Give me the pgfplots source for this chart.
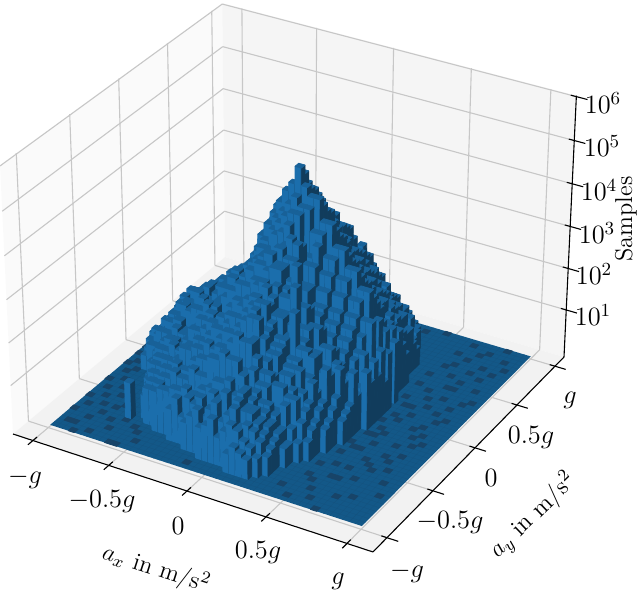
\RequirePackage{fix-cm}
\documentclass[border=0pt]{standalone}
\usepackage{pgfplots}
\pgfplotsset{compat=1.18}
\pgfplotsset{colormap={bars}{rgb255=(24,97,152) rgb255=(27,110,172) rgb255=(17,60,92) rgb255=(24,68,104)}}
\pgfplotsset{barstyle/.style={patch,patch type=rectangle,shader=flat,point meta=explicit,colormap access=direct,colormap name=bars,forget plot}}
\newcommand\PP[3]{\pgfmathsetmacro\pW{1-0.04697*#1+0.08841*#2-0.045*#3}%
\pgfmathsetmacro\pU{(13+342.48*#1+231.89*#2-13*#3)/\pW}%
\pgfmathsetmacro\pV{(434+92.07*#1-154.28*#2-276.43*#3)/\pW}}
\newcommand\seg[7]{%
\PP{#2}{#3}{#4}\let\aU\pU\let\aV\pV\PP{#5}{#6}{#7}%
\edef\tmp{\noexpand\addplot[#1,forget plot] coordinates {(\aU,\aV)(\pU,\pV)};}\tmp}
\newcommand\quadface[5]{%
\gdef\ql{}\foreach \q in {#2,#3,#4,#5}{\expandafter\PPc\q\relax\xdef\ql{\ql(\pU,\pV)}}%
\edef\tmp{\noexpand\addplot[draw=none,fill=#1,forget plot] coordinates {\ql} --cycle;}\tmp}
\def\PPc#1/#2/#3\relax{\PP{#1}{#2}{#3}}
\newcommand\barrow[3]{%
\gdef\rowlist{}%
\pgfmathsetmacro\yA{0.08+0.0176*#1}\pgfmathsetmacro\yB{\yA+0.0176}%
\foreach \h [count=\i from #2] in {#3}{\ifnum\h>0
\pgfmathsetmacro\xA{0.055+0.01742*\i}\pgfmathsetmacro\xB{\xA+0.01742}\pgfmathsetmacro\fT{0.0246+0.0162*\h}%
\PP{\xA}{\yA}{\fT}\let\tAU\pU\let\tAV\pV
\PP{\xB}{\yA}{\fT}\let\tBU\pU\let\tBV\pV
\PP{\xB}{\yB}{\fT}\let\tCU\pU\let\tCV\pV
\PP{\xA}{\yB}{\fT}\let\tDU\pU\let\tDV\pV
\PP{\xA}{\yA}{0}\let\bAU\pU\let\bAV\pV
\PP{\xB}{\yA}{0}\let\bBU\pU\let\bBV\pV
\PP{\xB}{\yB}{0}\let\bCU\pU\let\bCV\pV
\xdef\rowlist{\rowlist
(\bAU,\bAV)[1](\bBU,\bBV)[1](\tBU,\tBV)[1](\tAU,\tAV)[1]
(\bBU,\bBV)[2](\bCU,\bCV)[2](\tCU,\tCV)[2](\tBU,\tBV)[2]
(\tAU,\tAV)[0](\tBU,\tBV)[0](\tCU,\tCV)[0](\tDU,\tDV)[0]}%
\fi}%
\edef\tmp{\noexpand\addplot[barstyle] coordinates {\rowlist};}\tmp}
\newcommand\spotrow[2]{%
\gdef\rowlist{}%
\pgfmathsetmacro\yA{0.08+0.0176*#1}\pgfmathsetmacro\yB{\yA+0.0176}%
\foreach \i in {#2}{%
\pgfmathsetmacro\xA{0.055+0.01742*\i}\pgfmathsetmacro\xB{\xA+0.01742}%
\PP{\xA}{\yA}{0}\let\tAU\pU\let\tAV\pV
\PP{\xB}{\yA}{0}\let\tBU\pU\let\tBV\pV
\PP{\xB}{\yB}{0}\let\tCU\pU\let\tCV\pV
\PP{\xA}{\yB}{0}\let\tDU\pU\let\tDV\pV
\xdef\rowlist{\rowlist(\tAU,\tAV)[3](\tBU,\tBV)[3](\tCU,\tCV)[3](\tDU,\tDV)[3]}%
}%
\edef\tmp{\noexpand\addplot[barstyle] coordinates {\rowlist};}\tmp}
\definecolor{flc}{RGB}{19,88,136}
\definecolor{flg}{RGB}{19,82,126}
\pgfplotsset{gridl/.style={color=black!22,line width=0.55pt},fl/.style={color=flg,line width=0.1pt},ax/.style={color=black,line width=0.55pt}}
\newcommand\tl{\fontsize{13.2}{15}\selectfont}
\newcommand\al{\fontsize{12.2}{14}\selectfont}
\begin{document}
\begin{tikzpicture}
\useasboundingbox (0,0) rectangle (320pt,297pt);
\begin{axis}[at={(0,0)},anchor=south west,scale only axis,width=320pt,height=297pt,
 xmin=0,xmax=640,ymin=0,ymax=594,y dir=reverse,hide axis,clip=true]
\quadface{black!2}{0/0/0}{0/1/0}{0/1/1}{0/0/1}
\quadface{black!4}{0/1/0}{1/1/0}{1/1/1}{0/1/1}
\quadface{black!5}{0/0/0}{1/0/0}{1/1/0}{0/1/0}
\foreach \t in {0.058,0.2755,0.4953,0.7128,0.931}{\seg{gridl}{\t}{0}{0}{\t}{1}{0}\seg{gridl}{\t}{1}{0}{\t}{1}{1}}
\foreach \t in {0.0674,0.295,0.512,0.737,0.9486}{\seg{gridl}{1}{\t}{0}{0}{\t}{0}\seg{gridl}{0}{\t}{0}{0}{\t}{1}}
\foreach \t in {0.1866,0.3486,0.5106,0.6726,0.8346,0.9966}{\seg{gridl}{0}{0}{\t}{0}{1}{\t}\seg{gridl}{0}{1}{\t}{1}{1}{\t}}
\quadface{flc}{0.055/0.08/0}{0.926/0.08/0}{0.926/0.96/0}{0.055/0.96/0}
\foreach \k in {1,...,49}{\pgfmathsetmacro\xk{0.055+0.01742*\k}\pgfmathsetmacro\yk{0.08+0.0176*\k}
 \seg{fl}{\xk}{0.08}{0}{\xk}{0.96}{0}\seg{fl}{0.055}{\yk}{0}{0.926}{\yk}{0}}
\spotrow{49}{10,36,46}\spotrow{48}{4,33,41}\spotrow{47}{8,30,44}\spotrow{46}{3,43,47}\spotrow{45}{6,40}
\spotrow{44}{2,42,48}\spotrow{43}{5,45}\spotrow{42}{1,41,47}\spotrow{41}{2,3,40,44}\spotrow{40}{0,46}
\spotrow{39}{1,42}\spotrow{38}{0,39,44}\spotrow{37}{1,47}\spotrow{36}{43,44}\spotrow{35}{0,39}
\spotrow{34}{41,48}\spotrow{33}{0,44,47}\spotrow{32}{1,42}\spotrow{31}{0,39,46}\spotrow{30}{1,43}
\spotrow{29}{40,41,45}\spotrow{28}{0,47}\spotrow{27}{1,42,46}\spotrow{26}{0,40}\spotrow{25}{41,45}
\spotrow{24}{0,39,44}\spotrow{23}{1,46}\spotrow{22}{0,40,45}\spotrow{21}{41,47}\spotrow{20}{1,39,40,46}
\spotrow{19}{0,44}\spotrow{18}{2,41}\spotrow{17}{1,38,46}\spotrow{16}{39,40,44}\spotrow{15}{2,45}
\spotrow{14}{0,38,42}\spotrow{13}{3,43,46}\spotrow{12}{1,44}\spotrow{11}{4,39,41}\spotrow{10}{2,37,47}
\spotrow{9}{0,6,43}\spotrow{8}{3,5,40,41}\spotrow{7}{1,37,48}\spotrow{6}{4,8,38}\spotrow{5}{0,6,10,45}
\spotrow{4}{3,11,39,43}\spotrow{3}{7,35}\spotrow{2}{1,2,12,40}\spotrow{1}{5,21,37}\spotrow{0}{3,9,10,42}
\barrow{46}{16}{5,5,7,7,5,8,8,6,9,9,7,6,6,4,3}
\barrow{45}{13}{4,6,6,4,7,7,5,9,9,6,10,10,12,8,8,6,6,4,3}
\barrow{44}{11}{5,5,7,4,8,8,6,9,9,11,7,12,12,14,14,15,11,11,9,9,6,6,4}
\barrow{43}{9}{5,3,6,6,8,5,9,9,7,10,10,12,8,13,13,16,16,18,14,14,10,10,8,8,5,4}
\barrow{42}{8}{4,6,3,6,7,7,9,6,11,11,8,12,12,15,10,16,16,19,19,15,15,11,11,8,8,6,4}
\barrow{41}{6}{4,4,6,3,7,7,9,9,6,11,11,13,9,14,14,16,12,18,18,20,22,17,17,14,14,10,10,8,8,5}
\barrow{40}{5}{3,5,5,7,4,8,8,11,7,12,12,14,10,15,15,17,13,19,19,22,24,19,19,15,15,12,12,9,9,6,4}
\barrow{39}{4}{3,5,5,7,4,9,9,12,8,13,13,15,11,17,17,14,20,20,23,23,26,21,21,17,17,14,14,10,10,9,6,4,3}
\barrow{38}{3}{3,4,4,7,5,9,9,12,8,13,13,15,11,16,16,18,14,21,21,24,24,28,28,23,23,19,19,15,15,13,12,11,8,5}
\barrow{37}{3}{3,5,5,7,4,9,11,8,12,12,14,10,15,15,18,14,20,20,23,23,26,29,29,29,24,24,20,20,16,16,14,12,12,9}
\barrow{36}{2}{3,4,4,6,3,7,10,10,6,13,13,15,15,12,18,20,20,16,23,23,26,28,28,30,30,25,25,21,21,17,17,14,14,12,9}
\barrow{35}{2}{4,4,6,6,4,8,11,11,7,14,14,17,22,18,26,26,21,28,28,24,30,30,26,31,31,26,26,22,22,18,18,15,15,13,10}
\barrow{34}{2}{5,5,7,4,9,9,11,7,14,14,16,18,22,24,27,22,29,29,25,31,31,27,33,33,28,28,24,24,20,20,17,17,14,12,9,6}
\barrow{33}{2}{5,7,7,4,10,10,12,8,14,15,17,19,21,25,20,28,30,30,26,32,33,33,28,35,35,30,30,26,26,22,22,18,18,15,12,9}
\barrow{32}{2}{5,5,8,8,6,10,12,12,8,15,17,17,20,24,27,23,31,31,27,34,34,29,36,36,33,33,28,28,24,24,20,20,17,14,8,13}
\barrow{31}{2}{5,7,9,6,11,11,12,13,10,16,18,18,14,22,26,27,22,33,33,28,35,35,37,38,35,35,30,30,26,26,22,22,18,15,15,11}
\barrow{30}{2}{4,7,10,7,11,11,12,9,15,15,18,14,20,23,27,22,33,34,35,30,35,38,38,40,37,37,33,33,28,28,24,24,20,20,9,15}
\barrow{29}{2}{4,7,9,6,11,12,13,9,16,16,18,14,20,22,26,21,31,33,35,37,32,37,40,42,41,37,37,33,33,28,28,24,24,20,17,8,13}
\barrow{28}{2}{3,6,9,9,12,8,14,14,16,12,19,19,21,17,25,26,30,26,36,38,40,41,42,44,43,40,40,35,35,30,30,26,26,21,21,16}
\barrow{27}{2}{2,5,9,6,13,13,14,10,16,17,18,14,21,22,24,20,29,32,36,39,41,43,44,46,45,41,41,36,36,31,31,27,27,23,23,10,12}
\barrow{26}{2}{2,5,8,8,12,14,10,14,17,13,19,19,22,18,24,25,28,33,36,40,42,44,46,49,46,43,43,38,38,33,33,29,29,25,25,20,6}
\barrow{25}{2}{2,4,8,10,13,9,15,15,17,13,18,19,21,23,19,25,28,33,36,39,42,45,47,51,47,45,45,40,40,35,35,31,31,27,27,11,14}
\barrow{24}{2}{3,5,7,7,12,13,13,16,15,15,17,19,19,22,21,21,27,30,33,37,39,41,43,45,43,43,38,38,33,33,29,29,25,25,21,21,9}
\barrow{23}{2}{4,3,8,9,9,10,10,11,12,12,15,15,16,16,19,19,23,28,32,34,37,39,41,42,42,33,33,36,30,30,26,26,22,22,18,10,13}
\barrow{22}{2}{3,6,6,7,11,11,14,13,13,17,16,16,18,21,21,23,25,25,30,33,33,37,38,40,36,36,32,32,27,27,23,23,20,20,15,15,9}
\barrow{21}{3}{4,6,6,10,10,10,11,15,15,13,13,18,18,16,16,24,26,26,31,33,33,35,36,38,37,28,28,24,24,21,21,18,18,14,8,12}
\barrow{20}{3}{3,3,8,8,11,12,12,15,16,16,18,17,17,21,23,23,27,29,29,33,34,34,36,34,34,28,28,23,23,19,19,16,16,11,7}
\barrow{19}{3}{2,5,5,6,9,9,13,11,11,13,13,17,19,15,15,20,26,26,30,32,32,35,33,33,30,34,25,25,21,21,17,17,14,9,13}
\barrow{18}{6}{6,8,8,12,11,11,13,16,16,18,17,17,21,23,23,27,29,29,32,33,33,29,27,26,26,22,22,18,18,15,11,6}
\barrow{17}{6}{3,7,7,10,10,9,9,12,12,13,13,19,15,15,20,20,25,29,30,26,30,28,28,31,22,22,14,14,10,10,15,5}
\barrow{16}{6}{4,7,7,11,11,10,12,15,15,16,18,18,20,21,21,24,26,27,27,30,28,25,25,23,20,20,18,18,14,14,9,4}
\barrow{15}{7}{5,9,9,8,8,9,12,12,12,12,14,14,15,15,19,19,22,28,24,27,25,25,21,27,19,19,18,10,16,7}
\barrow{14}{7}{3,7,10,10,12,11,11,13,15,15,17,19,19,21,23,23,25,27,28,28,24,21,21,17,17,14,14,11,9,5}
\barrow{13}{8}{5,9,9,7,7,10,10,11,11,14,14,15,15,17,18,18,20,27,23,23,20,20,16,16,16,9,14,8,4}
\barrow{12}{8}{4,8,8,10,10,11,14,14,15,15,17,16,19,21,21,23,25,26,26,22,19,19,15,15,12,12,10,6}
\barrow{11}{9}{5,6,6,9,9,9,8,11,11,11,12,12,14,14,17,17,20,22,18,18,15,10,10,13,7,9,5}
\barrow{10}{9}{3,8,8,10,10,12,11,11,14,15,15,16,19,19,21,23,22,22,19,16,16,14,14,12,12,7,3}
\barrow{9}{10}{6,7,7,8,8,7,9,9,10,11,11,13,14,14,16,16,16,17,14,14,9,9,11,6,3}
\barrow{8}{10}{4,8,8,10,10,12,11,11,14,13,13,18,18,20,19,19,16,13,13,11,11,9,6,3}
\barrow{7}{8}{7,0,0,7,7,9,8,8,6,8,8,9,11,11,12,12,14,12,12,14,12,10,10,8,6,3}
\barrow{6}{13}{8,9,9,10,10,11,10,10,12,13,15,15,16,13,14,11,11,9,8,5}
\barrow{5}{16}{6,9,5,10,9,11,7,13,12,14,10,13,11,11,9,7,4}
\barrow{4}{19}{5,7,9,5,10,12,8,10,12,8,9,8,6,3}
\barrow{3}{22}{6,7,9,5,7,9,8,6,5,3}
\barrow{2}{27}{3,5,4,3}
\seg{ax}{0}{0}{0}{1}{0}{0}\seg{ax}{1}{0}{0}{1}{1}{0}\seg{ax}{1}{1}{0}{1}{1}{1}
\foreach \t in {0.058,0.2755,0.4953,0.7128,0.931}{\seg{ax}{\t}{0.018}{0}{\t}{-0.022}{0}}
\foreach \t in {0.0674,0.295,0.512,0.737,0.9486}{\seg{ax}{0.985}{\t}{0}{1.03}{\t}{0}}
\foreach \t in {0.1866,0.3486,0.5106,0.6726,0.8346,0.9966}{\seg{ax}{0.985}{1}{\t}{1.03}{1}{\t}}
\node at (axis cs:25,478) {\tl$-g$};
\node at (axis cs:102,502) {\tl$-0.5g$};
\node at (axis cs:178,526) {\tl$0$};
\node at (axis cs:258,553) {\tl$0.5g$};
\node at (axis cs:338,581) {\tl$g$};
\node at (axis cs:407,572) {\tl$-g$};
\node at (axis cs:450,523) {\tl$-0.5g$};
\node at (axis cs:491,478) {\tl$0$};
\node at (axis cs:531,438) {\tl$0.5g$};
\node at (axis cs:570,400) {\tl$g$};
\node at (axis cs:593,315) {\tl$10^{1}$};
\node at (axis cs:594,274) {\tl$10^{2}$};
\node at (axis cs:597,233) {\tl$10^{3}$};
\node at (axis cs:599,190) {\tl$10^{4}$};
\node at (axis cs:602,146) {\tl$10^{5}$};
\node at (axis cs:603,103) {\tl$10^{6}$};
\node[rotate=-18] at (axis cs:156,569) {\al$a_x$ in m/s$^2$};
\node[rotate=44] at (axis cs:533,516) {\al$a_y$ in m/s$^2$};
\node[rotate=90] at (axis cs:626,219) {\al Samples};
\end{axis}
\end{tikzpicture}
\end{document}
